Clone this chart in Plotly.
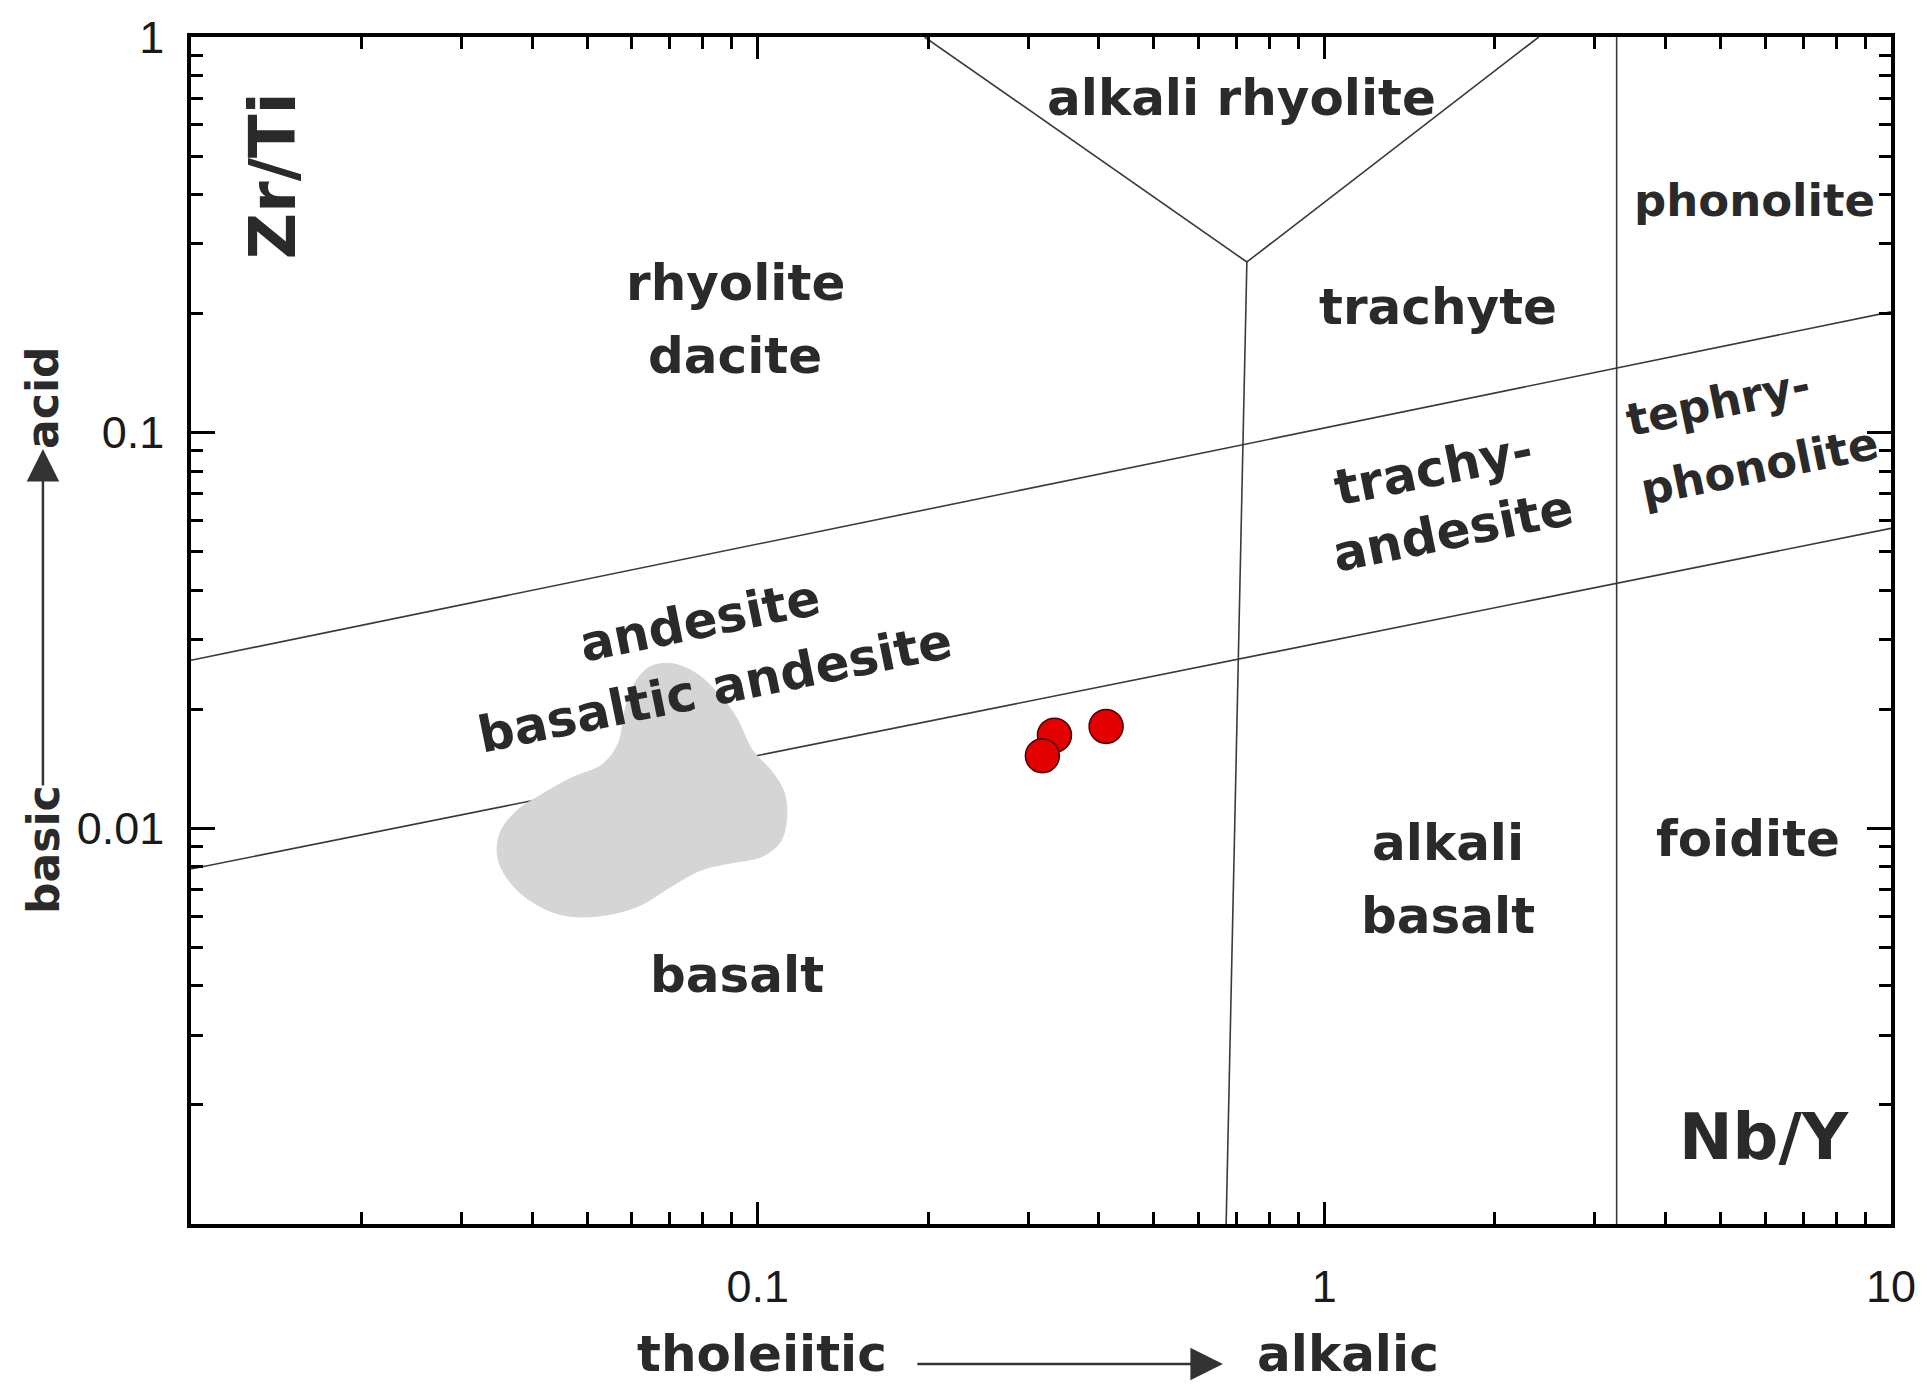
import math
import plotly.graph_objects as go

# ---------------- data ----------------
# classification field boundaries (Nb/Y, Zr/Ti)
v_left_x = [0.197, 0.73]
v_left_y = [1.0, 0.27]
v_right_x = [0.73, 2.39]
v_right_y = [0.27, 1.0]
stem_x = [0.73, 0.671]
stem_y = [0.27, 0.001]
vert_x = [3.28, 3.28]
vert_y = [1.0, 0.001]
upper_x = [0.01, 10]
upper_y = [0.0266, 0.202]
lower_x = [0.01, 10]
lower_y = [0.00789, 0.0573]

# grey reference field outline
field_x = [0.0643, 0.070, 0.0773, 0.0855, 0.092, 0.0977, 0.106, 0.1114, 0.1125,
           0.1096, 0.1018, 0.0898, 0.0793, 0.070, 0.0618, 0.0532, 0.0458, 0.0404,
           0.0366, 0.0348, 0.0351, 0.0375, 0.0414, 0.0469, 0.0532, 0.0568, 0.0582,
           0.0603, 0.0643]
field_y = [0.0255, 0.0261, 0.0248, 0.0218, 0.0189, 0.0158, 0.0139, 0.0123, 0.01066,
           0.00924, 0.00849, 0.00818, 0.00784, 0.0071, 0.00637, 0.00602, 0.00602, 0.00646,
           0.0073, 0.00842, 0.00972, 0.01105, 0.01213, 0.0134, 0.0145, 0.0164, 0.0196,
           0.0229, 0.0255]

# samples
sample_nby = [0.334, 0.412, 0.318]
sample_zrti = [0.0172, 0.0181, 0.01525]

# tick labels
x_tickvals = [0.1, 1, 10]
x_ticktext = ["0.1", "1", "10"]
y_tickvals = [0.01, 0.1, 1]
y_ticktext = ["0.01", "0.1", "1"]

# field labels: (text, x, y, angle, size)
labels = [
    ("alkali rhyolite", 0.713, 0.70, 0, 50),
    ("rhyolite", 0.0912, 0.239, 0, 50),
    ("dacite", 0.0912, 0.156, 0, 50),
    ("trachyte", 1.585, 0.208, 0, 50),
    ("phonolite", 5.75, 0.387, 0, 45),
    ("tephry-", 4.95, 0.119, -11.5, 45),
    ("phonolite", 5.85, 0.0819, -11.5, 45),
    ("trachy-", 1.56, 0.081, -11.5, 50),
    ("andesite", 1.69, 0.0564, -11.5, 50),
    ("andesite", 0.0791, 0.0334, -11.5, 50),
    ("basaltic andesite", 0.0841, 0.0226, -11.5, 50),
    ("alkali", 1.652, 0.00918, 0, 50),
    ("basalt", 1.652, 0.0060, 0, 50),
    ("foidite", 5.6, 0.0094, 0, 50),
    ("basalt", 0.092, 0.00426, 0, 50),
    ("Nb/Y", 5.97, 0.00166, 0, 64),
    ("Zr/Ti", 0.01396, 0.445, -90, 64),
]

# ---------------- figure ----------------
LINE = dict(color="#3a3a3a", width=1.6)
fig = go.Figure()
for xs, ys in [(v_left_x, v_left_y), (v_right_x, v_right_y), (stem_x, stem_y),
               (vert_x, vert_y), (upper_x, upper_y), (lower_x, lower_y)]:
    fig.add_trace(go.Scatter(x=xs, y=ys, mode="lines", line=LINE,
                             hoverinfo="skip", showlegend=False))

fig.add_trace(go.Scatter(x=field_x, y=field_y, mode="lines", fill="toself",
                         fillcolor="#d5d5d5", line=dict(color="#d5d5d5", width=1, shape="spline"),
                         hoverinfo="skip", showlegend=False))

fig.add_trace(go.Scatter(x=sample_nby, y=sample_zrti, mode="markers",
                         marker=dict(size=34, color="#e30000",
                                     line=dict(color="#4a0000", width=1.5)),
                         showlegend=False))

LABEL_FONT = dict(family="DejaVu Sans", size=50, color="#2a2a2a", weight="bold")
for text, x, y, ang, size in labels:
    # annotations on log axes take log10 positions
    fig.add_annotation(x=math.log10(x), y=math.log10(y), xref="x", yref="y",
                       text=text, showarrow=False, textangle=ang,
                       xanchor="center", yanchor="middle",
                       font=dict(LABEL_FONT, size=size))

# axis titles with arrows (paper coordinates)
TITLE_FONT = dict(family="DejaVu Sans", size=50, color="#2a2a2a", weight="bold")
common = dict(xref="paper", yref="paper", xanchor="center", yanchor="middle")
fig.add_annotation(x=0.3359, y=-0.1095, text="tholeiitic", showarrow=False,
                   font=TITLE_FONT, borderpad=0, **common)
fig.add_annotation(x=0.6806, y=-0.1095, text="alkalic", showarrow=False,
                   font=TITLE_FONT, borderpad=0, **common)
fig.add_annotation(x=0.607, y=-0.118, text="", showarrow=True, ax=-307, ay=0,
                   arrowhead=2, arrowsize=2.6, arrowwidth=2.5, arrowcolor="#333333",
                   **common)
fig.add_annotation(x=-0.0871, y=0.6959, text="acid", showarrow=False, textangle=-90,
                   font=dict(TITLE_FONT, size=44), **common)
fig.add_annotation(x=-0.0871, y=0.3159, text="basic", showarrow=False, textangle=-90,
                   font=dict(TITLE_FONT, size=44), **common)
fig.add_annotation(x=-0.0871, y=0.6529, text="", showarrow=True, ax=0, ay=338,
                   arrowhead=2, arrowsize=2.6, arrowwidth=2.5, arrowcolor="#333333",
                   **common)

x_minor = [m * 10 ** e for e in (-2, -1, 0) for m in range(2, 10)]
y_minor = [m * 10 ** e for e in (-3, -2, -1) for m in range(2, 10)]
TICK_FONT = dict(family="Liberation Sans", size=45, color="#1a1a1a")

fig.update_xaxes(type="log", range=[-2, 1], tickvals=x_tickvals, ticktext=x_ticktext,
                 ticks="inside", ticklen=22, tickwidth=2.5, tickcolor="black",
                 showline=True, linewidth=3.5, linecolor="black", mirror="ticks",
                 showgrid=False, zeroline=False, tickfont=TICK_FONT,
                 ticklabelstandoff=20,
                 minor=dict(tickmode="array", tickvals=x_minor, ticks="inside",
                            ticklen=12, tickwidth=2.5, tickcolor="black", showgrid=False))
fig.update_yaxes(type="log", range=[-3, 0], tickvals=y_tickvals, ticktext=y_ticktext,
                 ticks="inside", ticklen=24, tickwidth=2.5, tickcolor="black",
                 showline=True, linewidth=3.5, linecolor="black", mirror="ticks",
                 showgrid=False, zeroline=False, tickfont=TICK_FONT,
                 ticklabelstandoff=14,
                 minor=dict(tickmode="array", tickvals=y_minor, ticks="inside",
                            ticklen=12, tickwidth=2.5, tickcolor="black", showgrid=False))

fig.update_layout(width=1927, height=1386,
                  margin=dict(l=191, r=36, t=37, b=162),
                  paper_bgcolor="white", plot_bgcolor="white",
                  showlegend=False, hovermode=False)

fig.write_html("out.html", config={"displayModeBar": False},
               post_script="document.body.style.margin='0';")
